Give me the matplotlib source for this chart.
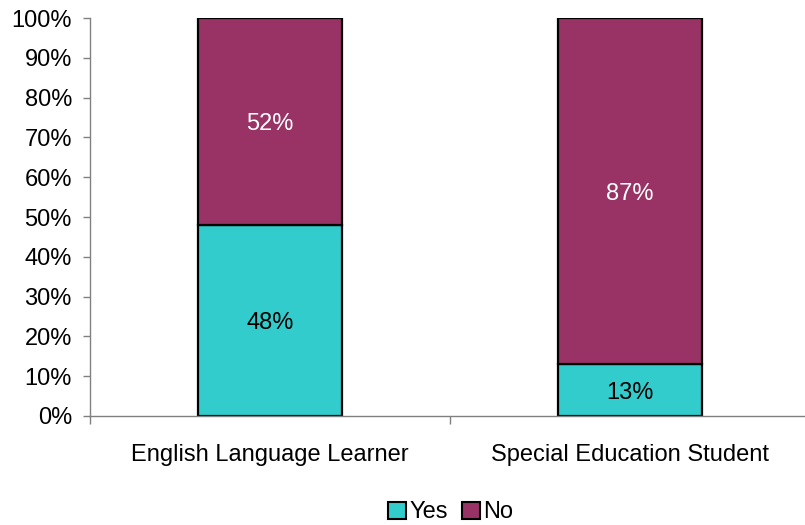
import matplotlib.pyplot as plt
import numpy as np
from matplotlib.patches import Patch
from matplotlib.ticker import PercentFormatter

plt.rcParams["font.family"] = ["Liberation Sans", "DejaVu Sans"]

categories = ["English Language Learner", "Special Education Student"]
yes_pct = [48, 13]
no_pct = [52, 87]

yes_color = "#33CCCC"
no_color = "#993366"
axis_gray = "#808080"
fs = 17

fig = plt.figure(figsize=(8.05, 5.25), dpi=100)
ax = fig.add_axes([90 / 805, 109 / 525, 720 / 805, 398 / 525])

x = np.arange(len(categories))
width = 0.4
ax.bar(x, yes_pct, width, color=yes_color, edgecolor="black", linewidth=1.6)
ax.bar(x, no_pct, width, bottom=yes_pct, color=no_color,
       edgecolor="black", linewidth=1.6)

# value labels centered in each segment
for xi, y, n in zip(x, yes_pct, no_pct):
    ax.text(xi, y / 2, f"{y}%", ha="center", va="center_baseline", fontsize=fs, color="black")
    ax.text(xi, y + n / 2, f"{n}%", ha="center", va="center_baseline", fontsize=fs, color="white")

ax.set_xlim(-0.5, 1.5)
ax.set_ylim(0, 100)
ax.set_yticks(np.arange(0, 101, 10))
ax.yaxis.set_major_formatter(PercentFormatter(decimals=0))
ax.set_xticks([-0.5, 0.5, 1.5])
ax.set_xticklabels([])
ax.set_xticks(x, minor=True)
ax.set_xticklabels(categories, minor=True)
ax.tick_params(axis="x", which="minor", length=0, pad=20, labelsize=fs)
ax.tick_params(axis="x", which="major", length=6, color=axis_gray, width=1)
ax.tick_params(axis="y", length=5, color=axis_gray, width=1, labelsize=fs, pad=8)

for side in ["top", "right"]:
    ax.spines[side].set_visible(False)
for side in ["left", "bottom"]:
    ax.spines[side].set_color(axis_gray)
    ax.spines[side].set_linewidth(1)

handles = [Patch(facecolor=yes_color, edgecolor="black", linewidth=1.5, label="Yes"),
           Patch(facecolor=no_color, edgecolor="black", linewidth=1.5, label="No")]
fig.legend(handles=handles, loc="center", bbox_to_anchor=(0.56, 0.024), ncol=2,
           frameon=False, fontsize=fs, handlelength=0.75, handleheight=0.75,
           handletextpad=0.15, columnspacing=0.6, borderpad=0)

fig.savefig("out.png", dpi=100)
